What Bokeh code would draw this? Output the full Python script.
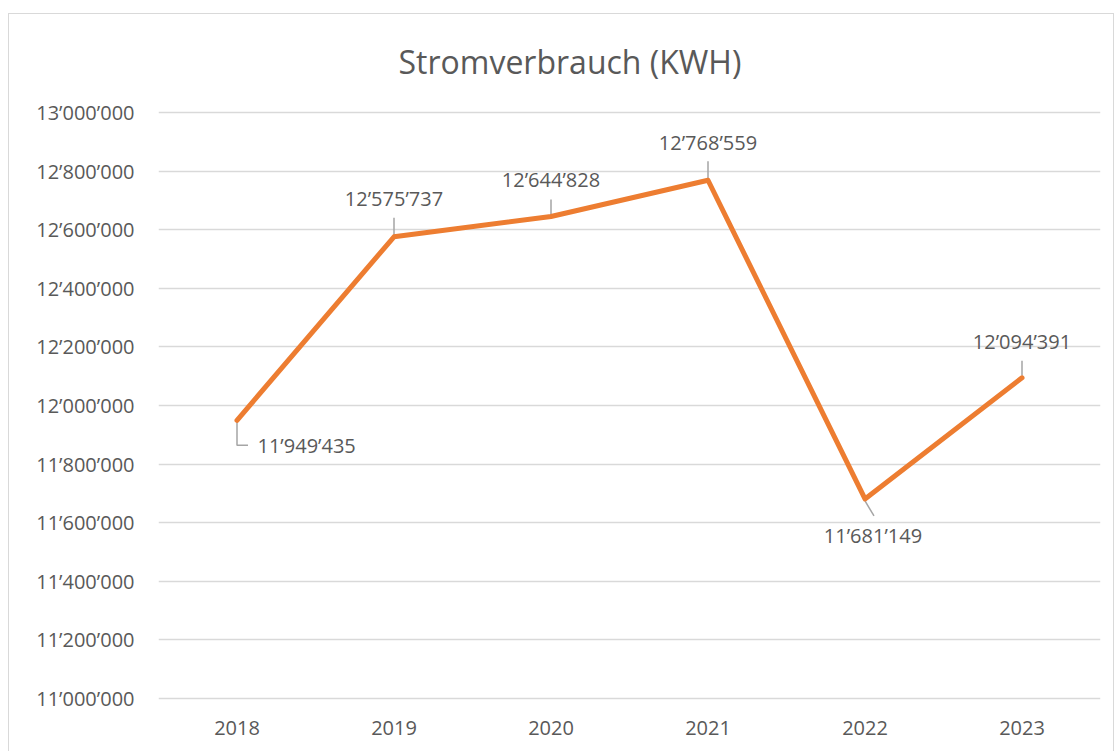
from bokeh.plotting import figure
from bokeh.models import Range1d, FixedTicker, LabelSet, ColumnDataSource
from bokeh.core.properties import value
from bokeh.embed import file_html
from bokeh.resources import INLINE

# ---- data ----
years = ["2018", "2019", "2020", "2021", "2022", "2023"]
consumption = [11949435, 12575737, 12644828, 12768559, 11681149, 12094391]
y_ticks = [11000000, 11200000, 11400000, 11600000, 11800000, 12000000,
           12200000, 12400000, 12600000, 12800000, 13000000]
title_text = "Stromverbrauch (KWH)"

def fmt(v):
    return f"{v:,}".replace(",", "\u2019")

y_tick_labels = [fmt(v) for v in y_ticks]
value_labels = [fmt(v) for v in consumption]

# ---- styling ----
W, H = 1106, 738
FL, FR, FT, FB = 149, 15, 95, 51   # frame borders in px
Y_PAD = 10000                       # small range padding so edge gridlines show
TEXT = "#595959"
GRID = "#d9d9d9"
FONT = "Open Sans"
LINE = "#ED7D31"
LEADER = "#a5a5a5"

# label offsets (px, screen: dx right, dy down) and anchors
lab_dx = [20.5, 0, 0, 0, 8, 0]
lab_dy = [25, -38, -37, -38, 36.5, -36]
lab_align = ["left", "center", "center", "center", "center", "center"]
# leader polylines relative to point (px)
leaders = [
    [(0, 1), (0, 25), (11, 25)],
    [(0, -19), (0, -1)],
    [(0, -17), (0, -1)],
    [(0, -19), (0, -1)],
    [(0, 2), (9, 17)],
    [(0, -17), (0, -2)],
]

n = len(years)
xs = [i + 0.5 for i in range(n)]

p = figure(width=W, height=H, output_backend="svg", toolbar_location=None,
           x_range=Range1d(0, n),
           y_range=Range1d(y_ticks[0] - Y_PAD, y_ticks[-1] + Y_PAD),
           min_border_left=FL, min_border_right=FR, min_border_top=FT,
           min_border_bottom=FB,
           styles={"margin-left": "8px", "margin-top": "13px",
                   "border-left": "1px solid #d9d9d9",
                   "border-top": "1px solid #d9d9d9",
                   "border-right": "1px solid #d9d9d9"})
p.outline_line_color = None
p.background_fill_color = "white"
p.border_fill_color = "white"

frame_w = W - FL - FR
frame_h = H - FT - FB
ux = n / frame_w
uy = (y_ticks[-1] - y_ticks[0] + 2 * Y_PAD) / frame_h

# title
p.title.text = title_text
p.title.align = "left"
p.title.offset = 240
p.title.standoff = 50
p.title.vertical_align = "top"
p.title.text_font = FONT
p.title.text_font_size = "32px"
p.title.text_font_style = "normal"
p.title.text_color = TEXT

# axes
p.xaxis.ticker = FixedTicker(ticks=xs)
p.xaxis.major_label_overrides = {x: y for x, y in zip(xs, years)}
p.yaxis.ticker = FixedTicker(ticks=y_ticks)
p.yaxis.major_label_overrides = {v: s for v, s in zip(y_ticks, y_tick_labels)}
for ax in (p.xaxis, p.yaxis):
    ax.axis_line_color = None
    ax.major_tick_line_color = None
    ax.minor_tick_line_color = None
    ax.major_label_text_color = TEXT
    ax.major_label_text_font = FONT
    ax.major_label_text_font_size = "20px"
p.xaxis.major_label_standoff = 13
p.yaxis.major_label_standoff = 18
p.xgrid.grid_line_color = None
p.ygrid.grid_line_color = GRID
p.ygrid.grid_line_width = 1.5

# leaders
lx, ly = [], []
for x, y, pts in zip(xs, consumption, leaders):
    lx.append([x + dx * ux for dx, dy in pts])
    ly.append([y - dy * uy for dx, dy in pts])
p.multi_line(lx, ly, line_color=LEADER, line_width=1.5)

# line
p.line(xs, consumption, line_color=LINE, line_width=5,
       line_join="round", line_cap="round")

# value labels
for al in ("left", "center"):
    idx = [i for i in range(n) if lab_align[i] == al]
    src = ColumnDataSource(dict(
        x=[xs[i] for i in idx], y=[consumption[i] for i in idx],
        t=[value_labels[i] for i in idx],
        dx=[lab_dx[i] for i in idx], dy=[-lab_dy[i] for i in idx]))
    p.add_layout(LabelSet(x="x", y="y", text="t", source=src,
                          x_offset="dx", y_offset="dy",
                          text_align=al, text_baseline="middle",
                          text_color=TEXT, text_font=value(FONT),
                          text_font_size=value("20px")))

open("out.html", "w").write(file_html(p, INLINE))
